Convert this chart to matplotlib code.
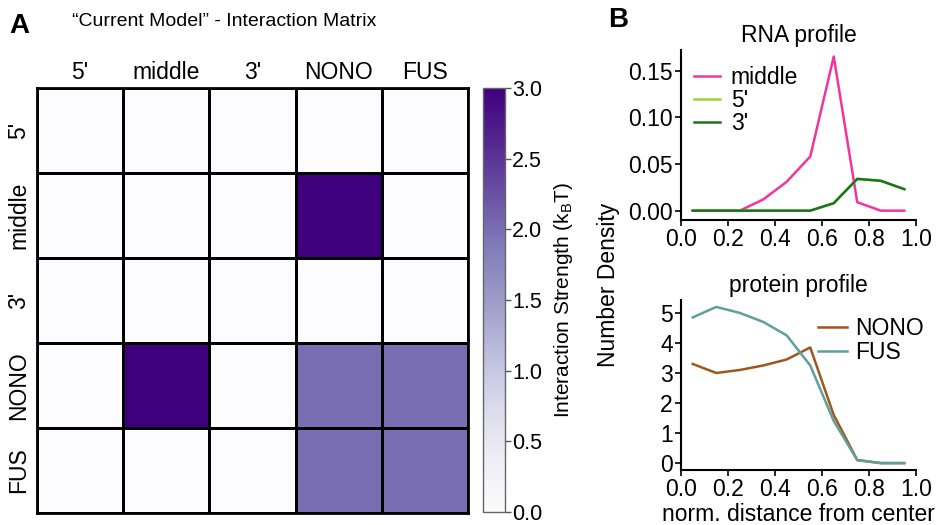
import numpy as np
import matplotlib
matplotlib.use("Agg")
import matplotlib.pyplot as plt
from matplotlib.colors import Normalize

plt.rcParams['font.family'] = ['Liberation Sans', 'DejaVu Sans']
plt.rcParams['mathtext.fontset'] = 'custom'
plt.rcParams['mathtext.rm'] = 'Liberation Sans'
plt.rcParams['mathtext.it'] = 'Liberation Sans'

# interaction matrix
species = ["5'", "middle", "3'", "NONO", "FUS"]
matrix = np.array([
    [0.0, 0.0, 0.0, 0.0, 0.0],
    [0.0, 0.0, 0.0, 3.0, 0.0],
    [0.0, 0.0, 0.0, 0.0, 0.0],
    [0.0, 3.0, 0.0, 2.0, 2.0],
    [0.0, 0.0, 0.0, 2.0, 2.0],
])
cbar_ticks = [0.0, 0.5, 1.0, 1.5, 2.0, 2.5, 3.0]

# radial profiles
r = [0.05, 0.15, 0.25, 0.35, 0.45, 0.55, 0.65, 0.75, 0.85, 0.95]
rna_middle = [0.0, 0.0, 0.0, 0.012, 0.031, 0.058, 0.165, 0.009, 0.0, 0.0]
rna_5 = [0.0, 0.0, 0.0, 0.0, 0.0, 0.0, 0.008, 0.034, 0.032, 0.023]
rna_3 = [0.0, 0.0, 0.0, 0.0, 0.0, 0.0, 0.008, 0.034, 0.032, 0.023]
nono = [3.3, 3.0, 3.1, 3.25, 3.45, 3.85, 1.6, 0.1, 0.0, 0.0]
fus = [4.85, 5.2, 5.0, 4.7, 4.25, 3.25, 1.4, 0.1, 0.0, 0.0]

W, H = 939, 525
fig = plt.figure(figsize=(W / 100, H / 100), dpi=100)

def box(x0, y0, x1, y1):
    return [x0 / W, 1 - y1 / H, (x1 - x0) / W, (y1 - y0) / H]

def fpos(x, y):
    return (x / W, 1 - y / H)

# --- panel A
ax = fig.add_axes(box(37, 88, 468, 513))
norm = Normalize(0, 3)
mesh = ax.pcolormesh(matrix, cmap='Purples', norm=norm, edgecolors='black', linewidth=2)
ax.set_xlim(0, 5)
ax.set_ylim(5, 0)
ax.set_xticks(np.arange(5) + 0.5)
ax.set_xticklabels(species, fontsize=16.5)
ax.set_yticks(np.arange(5) + 0.5)
ax.set_yticklabels(species, fontsize=16.5, rotation=90, va='center')
ax.xaxis.tick_top()
ax.tick_params(axis='x', length=0, pad=3)
ax.tick_params(axis='y', length=0, pad=5)
for s in ax.spines.values():
    s.set_linewidth(2)

cax = fig.add_axes(box(483, 88, 505, 512))
cb = fig.colorbar(mesh, cax=cax, ticks=cbar_ticks)
cb.outline.set_edgecolor('#666666')
cb.outline.set_linewidth(1)
cb.ax.tick_params(labelsize=15.5, length=4, width=1, color='#555555', pad=1)
cb.set_label(r"Interaction Strength (k$_\mathrm{B}$T)", fontsize=15, labelpad=7)

fig.text(*fpos(9, 26), "A", fontsize=20, fontweight='bold', va='center')
fig.text(*fpos(72, 22), "\u201cCurrent Model\u201d - Interaction Matrix", fontsize=14, va='center')

# --- panel B, RNA
ax1 = fig.add_axes(box(681, 50, 916, 220))
ax1.plot(r, rna_middle, color='#f2359c', lw=1.8, label='middle')
ax1.plot(r, rna_5, color='#9fd33a', lw=1.8, label="5'")
ax1.plot(r, rna_3, color='#17761c', lw=1.8, label="3'")
ax1.set_xlim(0, 1.0)
ax1.set_ylim(-0.01, 0.172)
ax1.set_xticks([0.0, 0.2, 0.4, 0.6, 0.8, 1.0])
ax1.set_yticks([0.0, 0.05, 0.10, 0.15])
ax1.set_yticklabels(['0.00', '0.05', '0.10', '0.15'])
ax1.set_title("RNA profile", fontsize=16.5, pad=6)
ax1.legend(loc='upper left', bbox_to_anchor=fpos(694, 66), bbox_transform=fig.transFigure,
           frameon=False, fontsize=16.5, handlelength=1.15, handletextpad=0.45,
           labelspacing=0.0, borderaxespad=0, borderpad=0)

# --- panel B, protein
ax2 = fig.add_axes(box(681, 300, 916, 470))
ax2.plot(r, nono, color='#a0561c', lw=1.8, label='NONO')
ax2.plot(r, fus, color='#5ea09c', lw=1.8, label='FUS')
ax2.set_xlim(0, 1.0)
ax2.set_ylim(-0.23, 5.43)
ax2.set_xticks([0.0, 0.2, 0.4, 0.6, 0.8, 1.0])
ax2.set_yticks([0, 1, 2, 3, 4, 5])
ax2.set_title("protein profile", fontsize=16.5, pad=6)
ax2.set_xlabel("norm. distance from center", fontsize=16.5, labelpad=1)
ax2.legend(loc='upper left', bbox_to_anchor=fpos(818, 317), bbox_transform=fig.transFigure,
           frameon=False, fontsize=16.5, handlelength=1.27, handletextpad=0.35,
           labelspacing=0.05, borderaxespad=0, borderpad=0)

for a in (ax1, ax2):
    a.spines['top'].set_visible(False)
    a.spines['right'].set_visible(False)
    a.spines['left'].set_linewidth(1.5)
    a.spines['bottom'].set_linewidth(1.5)
    a.tick_params(labelsize=16.5, length=4, width=1.2, pad=2)

fig.text(*fpos(609, 285), "Number Density", fontsize=16.5, rotation=90, va='center', ha='center')
fig.text(*fpos(608, 20), "B", fontsize=20, fontweight='bold', va='center')

fig.savefig("out.png", dpi=100)
